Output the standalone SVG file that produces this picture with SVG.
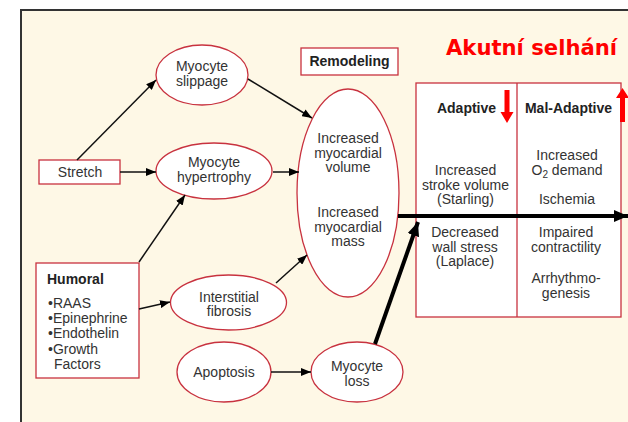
<svg xmlns="http://www.w3.org/2000/svg" width="628" height="422" viewBox="0 0 628 422">
<defs>
<style>
.n{fill:#fff;stroke:#c8323f;stroke-width:1.3}
.t{font-family:"Liberation Sans",Arial,sans-serif;font-size:14px;fill:#333;text-anchor:middle}
.b{font-weight:bold;fill:#222}
.l{text-anchor:start}
.c{stroke:#111;stroke-width:1.5;fill:none}
.ck{stroke:#000;stroke-width:4;fill:none}
.red{fill:#ff0000}
</style>
<marker id="ah" viewBox="0 0 10 8" markerUnits="userSpaceOnUse" markerWidth="10" markerHeight="8" refX="10" refY="4" orient="auto"><path d="M0,0 L10,4 L0,8 Z" fill="#000"/></marker>
<marker id="ahb" viewBox="0 0 14 12" markerUnits="userSpaceOnUse" markerWidth="14" markerHeight="12" refX="14" refY="6" orient="auto"><path d="M0,0 L14,6 L0,12 Z" fill="#000"/></marker>
</defs>
<rect x="0" y="0" width="628" height="422" fill="#fff"/>
<rect x="21" y="10" width="640" height="440" fill="#fef8e6" stroke="#333" stroke-width="2"/>

<text x="446" y="55" font-family="'Comic Sans MS','DejaVu Sans',sans-serif" font-size="22" font-weight="bold" fill="#ff0000" textLength="171" lengthAdjust="spacingAndGlyphs">Akutní selhání</text>

<g id="stretch">
<rect class="n" x="39" y="160" width="81" height="24"/>
<text class="t" x="80" y="177">Stretch</text>
</g>
<g id="myocyte-slippage">
<ellipse class="n" cx="202" cy="75" rx="46" ry="30"/>
<text class="t" x="202" y="71">Myocyte</text>
<text class="t" x="202" y="85.5">slippage</text>
</g>
<g id="myocyte-hypertrophy">
<ellipse class="n" cx="214" cy="171" rx="58" ry="28"/>
<text class="t" x="214" y="167">Myocyte</text>
<text class="t" x="214" y="181.5">hypertrophy</text>
</g>
<g id="remodeling">
<rect class="n" x="301" y="48" width="97" height="27"/>
<text class="t b" x="349.5" y="66">Remodeling</text>
</g>
<g id="remodeling-ellipse">
<ellipse class="n" cx="348" cy="193" rx="51" ry="104"/>
<text class="t" x="348" y="143">Increased</text>
<text class="t" x="348" y="157.5">myocardial</text>
<text class="t" x="348" y="172">volume</text>
<text class="t" x="348" y="217">Increased</text>
<text class="t" x="348" y="231.5">myocardial</text>
<text class="t" x="348" y="246">mass</text>
</g>
<g id="humoral">
<rect class="n" x="36" y="263" width="103" height="115"/>
<text class="t b l" x="47" y="284">Humoral</text>
<text class="t l" x="48" y="307.5">•RAAS</text>
<text class="t l" x="48" y="322.8">•Epinephrine</text>
<text class="t l" x="48" y="338">•Endothelin</text>
<text class="t l" x="48" y="353.5">•Growth</text>
<text class="t l" x="54" y="369">Factors</text>
</g>
<g id="interstitial-fibrosis">
<ellipse class="n" cx="228.5" cy="302.5" rx="58" ry="27.5"/>
<text class="t" x="229" y="301.5">Interstitial</text>
<text class="t" x="229" y="316">fibrosis</text>
</g>
<g id="apoptosis">
<ellipse class="n" cx="224" cy="372" rx="47" ry="30"/>
<text class="t" x="224" y="377">Apoptosis</text>
</g>
<g id="myocyte-loss">
<ellipse class="n" cx="357" cy="372" rx="46" ry="30"/>
<text class="t" x="357" y="371">Myocyte</text>
<text class="t" x="357" y="385.5">loss</text>
</g>
<g id="table">
<rect class="n" x="416" y="83" width="205" height="234"/>
<line x1="517" y1="83" x2="517" y2="317" stroke="#c8323f" stroke-width="1.3"/>
<text class="t b" x="466.5" y="113">Adaptive</text>
<text class="t b" x="568.5" y="113">Mal-Adaptive</text>
<path class="red" d="M504.5,90 H509.5 V112 H513.5 L507,123 L500.5,112 H504.5 Z"/>
<path class="red" d="M620,122 H625 V98 H629 L622.5,88 L616,98 H620 Z"/>
<text class="t" x="465.5" y="175">Increased</text>
<text class="t" x="465.5" y="189.5">stroke volume</text>
<text class="t" x="465.5" y="204">(Starling)</text>
<text class="t" x="567" y="160">Increased</text>
<text class="t" x="567" y="174.5">O<tspan font-size="10" dy="3">2</tspan><tspan dy="-3"> demand</tspan></text>
<text class="t" x="567" y="203.5">Ischemia</text>
<text class="t" x="465" y="237">Decreased</text>
<text class="t" x="465" y="251.5">wall stress</text>
<text class="t" x="465" y="266">(Laplace)</text>
<text class="t" x="566" y="237">Impaired</text>
<text class="t" x="566" y="251.5">contractility</text>
<text class="t" x="566" y="283">Arrhythmo-</text>
<text class="t" x="566" y="297.5">genesis</text>
</g>

<g id="connectors">
<line class="c" x1="77" y1="160" x2="156" y2="80" marker-end="url(#ah)"/>
<line class="c" x1="120" y1="172" x2="156" y2="172" marker-end="url(#ah)"/>
<line class="c" x1="273" y1="172" x2="299" y2="172" marker-end="url(#ah)"/>
<line class="c" x1="248" y1="79" x2="312" y2="118" marker-end="url(#ah)"/>
<line class="c" x1="139" y1="262" x2="185" y2="195" marker-end="url(#ah)"/>
<line class="c" x1="139" y1="309" x2="170" y2="302" marker-end="url(#ah)"/>
<line class="c" x1="276" y1="283" x2="307" y2="255" marker-end="url(#ah)"/>
<line class="c" x1="271" y1="372" x2="311" y2="372" marker-end="url(#ah)"/>
<line class="ck" x1="375" y1="344" x2="418" y2="222" marker-end="url(#ahb)"/>
<line class="ck" x1="398" y1="216" x2="628" y2="216" stroke-width="3.5" marker-end="url(#ahb)"/>
</g>
</svg>
